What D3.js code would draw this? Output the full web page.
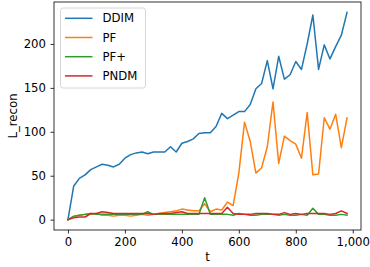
<!DOCTYPE html>
<html>
<head>
<meta charset="utf-8">
<script src="https://cdn.jsdelivr.net/npm/d3@7"></script>
<style>
  body { margin: 0; background: #fff; }
  svg { display: block; font-family: "DejaVu Sans", sans-serif; }
</style>
</head>
<body>
<div id="chart"></div>
<script>
// steps 0, 20, ... 980
const steps = d3.range(0, 1000, 20);

const ddim = [0, 38, 47, 51, 57, 60, 63, 62, 60, 63, 70, 74, 76, 77, 75, 77, 77, 77, 83, 77,
  87, 89, 92, 98, 99, 99, 106, 121, 115, 119, 123, 123, 131, 149, 155, 181, 149, 186, 160, 165,
  180, 171, 200, 233, 171, 199, 183, 197, 210, 236];
const pf = [0, 3, 5, 6, 6, 7, 5, 5, 4, 5, 5, 4, 5, 6, 5, 6, 7, 8, 9, 10,
  12, 11, 10, 10, 18, 9, 12, 11, 20, 16, 53, 111, 89, 53, 59, 83, 134, 64, 95, 90,
  86, 70, 122, 51, 52, 116, 103, 120, 82, 116];
const pfPlus = [0, 4, 5, 6, 7, 6, 6, 6, 6, 6, 6, 6, 6, 6, 9, 6, 6, 6, 6, 6,
  6, 6, 6, 6, 25, 6, 6, 6, 6, 5, 7, 6, 5, 5, 6, 6, 6, 5, 6, 5,
  5, 6, 5, 13, 6, 6, 5, 5, 6, 5];
const pndm = [0, 2, 3, 3, 7, 7, 9, 8, 7, 7, 7, 7, 7, 7, 7, 6, 7, 7, 7, 8,
  9, 7, 7, 7, 7, 7, 7, 7, 14, 7, 6, 6, 6, 7, 7, 7, 6, 6, 8, 6,
  7, 6, 7, 7, 7, 7, 6, 7, 10, 7];

const seriesNames = ['DDIM', 'PF', 'PF+', 'PNDM'];
const seriesValues = [ddim, pf, pfPlus, pndm];
const colors = ['#1f77b4', '#ff7f0e', '#2ca02c', '#d62728'];

const xTicks = [0, 200, 400, 600, 800, 1000];
const yTicks = [0, 50, 100, 150, 200];

const width = 370, height = 267;
const margin = {left: 54, right: 9, top: 2, bottom: 37};
const fontSize = 11.7;

const svg = d3.select('#chart').append('svg')
  .attr('width', width)
  .attr('height', height);

// matplotlib style 5% padding
const x = d3.scaleLinear()
  .domain([-49, 1029])
  .range([margin.left, width - margin.right]);
const y = d3.scaleLinear()
  .domain([-11.8, 247.8])
  .range([height - margin.bottom, margin.top]);

const line = d3.line()
  .x((d, i) => x(steps[i]))
  .y(d => y(d));

const plot = svg.append('g');
seriesValues.forEach((vals, i) => {
  plot.append('path')
    .datum(vals)
    .attr('fill', 'none')
    .attr('stroke', colors[i])
    .attr('stroke-width', 1.5)
    .attr('stroke-linejoin', 'round')
    .attr('stroke-linecap', 'square')
    .attr('d', line);
});

// frame
svg.append('rect')
  .attr('x', margin.left)
  .attr('y', margin.top)
  .attr('width', width - margin.right - margin.left)
  .attr('height', height - margin.bottom - margin.top)
  .attr('fill', 'none')
  .attr('stroke', '#000')
  .attr('stroke-width', 0.8);

// axes
const xAxis = svg.append('g')
  .attr('transform', `translate(0,${height - margin.bottom})`)
  .call(d3.axisBottom(x).tickValues(xTicks).tickSize(3.5).tickPadding(4.5));
const yAxis = svg.append('g')
  .attr('transform', `translate(${margin.left},0)`)
  .call(d3.axisLeft(y).tickValues(yTicks).tickSize(3.5).tickPadding(4.5));

[xAxis, yAxis].forEach(a => {
  a.select('.domain').remove();
  a.selectAll('.tick line').attr('stroke', '#000').attr('stroke-width', 0.8);
  a.selectAll('.tick text')
    .attr('fill', '#000')
    .style('font-size', fontSize + 'px')
    .style('font-family', '"DejaVu Sans", sans-serif');
});

// axis labels
svg.append('text')
  .attr('x', x(490))
  .attr('y', 260.5)
  .attr('text-anchor', 'middle')
  .style('font-size', fontSize + 'px')
  .text('t');

svg.append('text')
  .attr('transform', `translate(17,${(margin.top + height - margin.bottom) / 2}) rotate(-90)`)
  .attr('text-anchor', 'middle')
  .style('font-size', fontSize + 'px')
  .text('L_recon');

// legend
const legend = svg.append('g').attr('transform', 'translate(60.5,8)');
legend.append('rect')
  .attr('width', 85)
  .attr('height', 80)
  .attr('rx', 2.5)
  .attr('fill', '#fff')
  .attr('fill-opacity', 0.8)
  .attr('stroke', '#ccc')
  .attr('stroke-width', 0.8);

seriesNames.forEach((name, i) => {
  const row = legend.append('g').attr('transform', `translate(0,${10.3 + i * 19.2})`);
  row.append('line')
    .attr('x1', 4.5).attr('x2', 32)
    .attr('stroke', colors[i])
    .attr('stroke-width', 1.5);
  row.append('text')
    .attr('x', 42)
    .attr('dy', '0.35em')
    .style('font-size', fontSize + 'px')
    .text(name);
});
</script>
</body>
</html>
